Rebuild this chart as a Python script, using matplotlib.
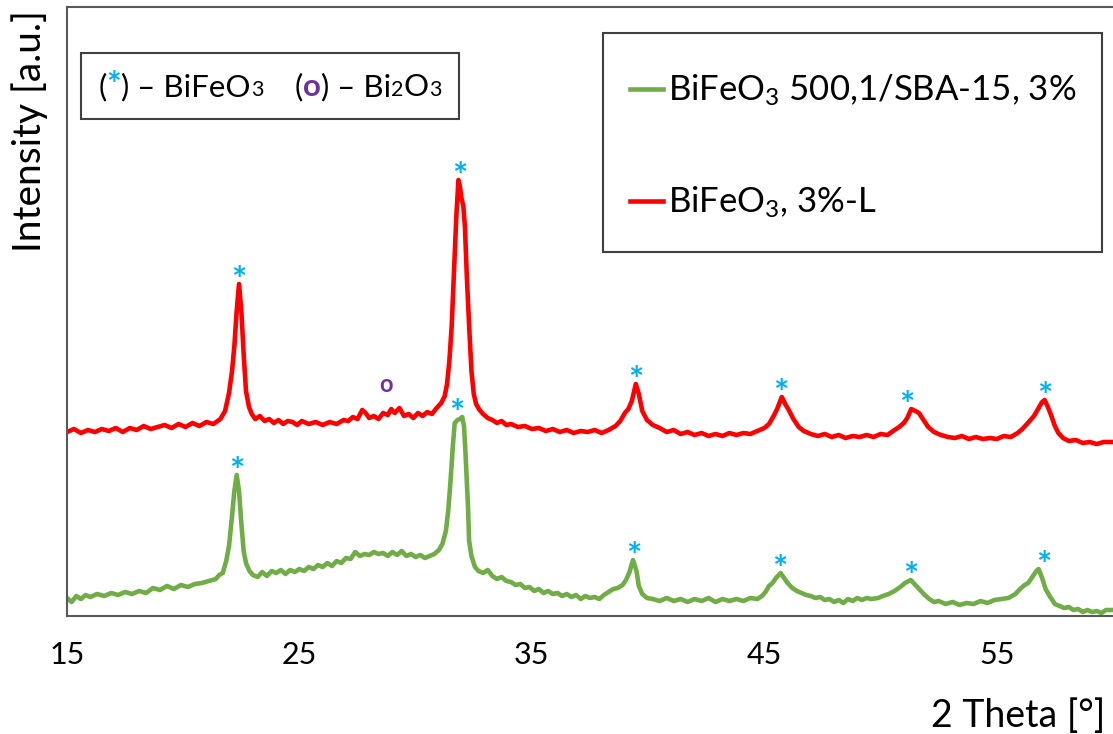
import numpy as np
import matplotlib
matplotlib.use('Agg')
import matplotlib.pyplot as plt
from matplotlib.patches import Rectangle
from matplotlib.offsetbox import TextArea, HPacker, AnchoredOffsetbox

plt.rcParams['font.family'] = ['Lato', 'DejaVu Sans']
plt.rcParams['mathtext.fontset'] = 'custom'
plt.rcParams['mathtext.rm'] = 'Lato'
plt.rcParams['mathtext.it'] = 'Lato:italic'
plt.rcParams['mathtext.bf'] = 'Lato:bold'

# BiFeO3, 3%-L  (2 theta [deg], intensity [a.u.])
tth_red = [15.0, 15.3, 15.6, 15.9, 16.2, 16.5, 16.8, 17.1, 17.4, 17.7, 18.0, 18.3, 18.6, 18.9,
           19.2, 19.5, 19.8, 20.1, 20.4, 20.7, 21.0, 21.3, 21.6, 21.8, 21.97, 22.1, 22.2, 22.3,
           22.4, 22.5, 22.6, 22.7, 22.83, 22.95, 23.1, 23.3, 23.5, 23.7, 23.9, 24.1, 24.3, 24.5,
           24.7, 24.9, 25.1, 25.4, 25.7, 26.0, 26.3, 26.6, 26.9, 27.1, 27.3, 27.5, 27.7, 27.85,
           28.0, 28.2, 28.4, 28.6, 28.8, 28.95, 29.1, 29.3, 29.5, 29.7, 29.9, 30.1, 30.3, 30.5,
           30.7, 30.9, 31.1, 31.25, 31.35, 31.45, 31.55, 31.65, 31.75, 31.84, 31.9, 31.97, 32.05,
           32.12, 32.2, 32.3, 32.4, 32.5, 32.6, 32.75, 32.9, 33.1, 33.3, 33.5, 33.7, 33.9, 34.1,
           34.4, 34.7, 35.0, 35.3, 35.6, 35.9, 36.2, 36.5, 36.8, 37.1, 37.4, 37.7, 38.0, 38.3,
           38.6, 38.8, 39.0, 39.15, 39.3, 39.47, 39.6, 39.75, 39.95, 40.2, 40.5, 40.8, 41.1, 41.4,
           41.7, 42.0, 42.3, 42.6, 42.9, 43.2, 43.5, 43.8, 44.1, 44.4, 44.7, 45.0, 45.2, 45.4,
           45.55, 45.75, 45.9, 46.05, 46.25, 46.48, 46.7, 47.0, 47.3, 47.6, 47.9, 48.2, 48.5,
           48.8, 49.1, 49.4, 49.7, 50.0, 50.3, 50.6, 50.8, 51.0, 51.15, 51.32, 51.5, 51.65, 51.85,
           52.05, 52.3, 52.6, 52.9, 53.2, 53.5, 53.8, 54.1, 54.4, 54.7, 55.0, 55.3, 55.6, 55.9,
           56.1, 56.3, 56.45, 56.6, 56.8, 56.95, 57.06, 57.2, 57.35, 57.5, 57.65, 57.85, 58.1,
           58.4, 58.7, 59.0, 59.3, 59.6, 60.0]
int_red = [184, 187, 183, 186, 184, 187, 185, 188, 184, 188, 186, 190, 187, 189,
           191, 188, 192, 189, 193, 190, 194, 192, 197, 205, 223, 245, 270, 305,
           332, 305, 262, 225, 209, 202, 197, 200, 195, 197, 193, 196, 192, 195,
           194, 191, 195, 192, 194, 191, 194, 192, 196, 195, 199, 197, 206, 203,
           198, 200, 197, 203, 201, 207, 203, 208, 200, 202, 198, 203, 200, 204,
           202, 208, 213, 220, 232, 255, 290, 345, 400, 436, 430, 418, 410,
           389, 340, 290, 245, 222, 212, 206, 202, 198, 196, 193, 195, 191, 192,
           189, 190, 187, 188, 185, 187, 184, 186, 183, 185, 184, 186, 183, 186,
           190, 195, 203, 207, 215, 232, 222, 205, 196, 191, 188, 184, 186, 182,
           184, 181, 183, 180, 182, 180, 183, 181, 183, 182, 185, 188, 192, 200,
           207, 219, 212, 206, 197, 189, 185, 182, 180, 182, 179, 181, 178,
           180, 179, 181, 179, 182, 181, 186, 189, 193, 198, 207, 205, 203, 196,
           189, 184, 181, 179, 178, 180, 177, 179, 177, 178, 177, 180, 179, 183,
           187, 192, 196, 200, 208, 214, 216, 209, 200, 190, 183, 178, 175,
           176, 173, 174, 172, 174, 174]

# BiFeO3 500,1/SBA-15, 3%
tth_green = [15.0, 15.2, 15.4, 15.6, 15.8, 16.0, 16.3, 16.6, 16.9, 17.2, 17.5, 17.8, 18.1, 18.4,
             18.7, 19.0, 19.3, 19.6, 19.9, 20.2, 20.5, 20.8, 21.1, 21.4, 21.55, 21.7, 21.85, 21.97,
             22.1, 22.2, 22.3, 22.4, 22.5, 22.6, 22.7, 22.85, 23.0, 23.2, 23.4, 23.6, 23.8, 24.0,
             24.2, 24.4, 24.6, 24.8, 25.0, 25.2, 25.4, 25.6, 25.8, 26.0, 26.2, 26.4, 26.6, 26.8,
             27.0, 27.2, 27.4, 27.6, 27.8, 28.0, 28.2, 28.4, 28.6, 28.8, 29.0, 29.2, 29.4, 29.6,
             29.8, 30.0, 30.2, 30.4, 30.6, 30.8, 31.0, 31.15, 31.3, 31.4, 31.5, 31.6, 31.68, 31.8,
             31.9, 32.0, 32.08, 32.15, 32.25, 32.3, 32.4, 32.55, 32.7, 32.9, 33.1, 33.3, 33.5,
             33.7, 33.9, 34.1, 34.3, 34.5, 34.7, 34.9, 35.1, 35.3, 35.5, 35.7, 35.9, 36.1, 36.3,
             36.5, 36.7, 36.9, 37.1, 37.3, 37.5, 37.7, 37.9, 38.1, 38.3, 38.5, 38.7, 38.9, 39.05,
             39.2, 39.35, 39.5, 39.6, 39.75, 39.95, 40.2, 40.5, 40.8, 41.1, 41.4, 41.7, 42.0,
             42.3, 42.6, 42.9, 43.2, 43.5, 43.8, 44.1, 44.4, 44.7, 44.9, 45.05, 45.2, 45.35,
             45.5, 45.7, 45.85, 46.0, 46.2, 46.4, 46.6, 46.8, 47.0, 47.2, 47.4, 47.6, 47.8, 48.0,
             48.2, 48.4, 48.6, 48.8, 49.0, 49.2, 49.4, 49.6, 49.9, 50.1, 50.35, 50.6, 50.85,
             51.05, 51.3, 51.5, 51.7, 51.9, 52.1, 52.3, 52.5, 52.8, 53.1, 53.4, 53.7, 54.0, 54.3,
             54.6, 54.9, 55.2, 55.5, 55.8, 56.0, 56.2, 56.35, 56.5, 56.7, 56.8, 56.95, 57.1,
             57.3, 57.5, 57.7, 57.9, 58.1, 58.3, 58.5, 58.7, 58.9, 59.1, 59.3, 59.5, 59.7, 60.0]
int_green = [18, 14, 20, 17, 21, 19, 22, 20, 23, 21, 24, 22, 25, 23,
             28, 26, 30, 27, 31, 29, 32, 33, 35, 37, 41, 43, 55, 70,
             100, 125, 141, 125, 93, 65, 53, 45, 41, 39, 44, 40, 45, 43,
             46, 42, 46, 44, 47, 45, 49, 47, 51, 49, 53, 50, 55, 53,
             58, 57, 64, 60, 62, 61, 64, 62, 63, 60, 64, 61, 65, 60,
             62, 59, 61, 58, 60, 62, 66, 72, 85, 105, 135, 170, 193, 196,
             197, 199, 190, 160, 110, 75, 60, 49, 45, 43, 46, 40, 37,
             39, 35, 34, 31, 32, 28, 29, 25, 27, 23, 25, 22, 23, 20,
             22, 19, 21, 17, 20, 18, 19, 17, 21, 24, 27, 28, 31, 36,
             44, 56, 45, 30, 22, 18, 17, 15, 18, 15, 17, 14, 17,
             15, 18, 14, 17, 15, 17, 15, 18, 17, 20, 24, 30, 33,
             38, 43, 38, 33, 28, 25, 23, 21, 20, 18, 19, 16, 17, 14,
             16, 13, 17, 15, 18, 16, 18, 17, 18, 20, 22, 25, 29,
             33, 36, 31, 26, 21, 17, 14, 15, 12, 14, 11, 13, 12, 15,
             13, 16, 17, 18, 22, 27, 31, 33, 38, 45, 47, 38, 27,
             19, 12, 10, 8, 9, 6, 7, 4, 6, 4, 5, 3, 6, 6]

# reflections marked on each pattern
bfo_red = [22.40, 31.90, 39.47, 45.71, 51.13, 57.06]
bfo_green = [22.31, 31.77, 39.39, 45.67, 51.30, 57.02]
bi2o3_red = [28.72]

tick_vals = [15, 25, 35, 45, 55]

col_red = '#FF0000'
col_green = '#70AD47'
col_star = '#00B0F0'
col_o = '#7030A0'
col_frame = '#404040'

W, H = 1113, 734
fig = plt.figure(figsize=(W / 100, H / 100), dpi=100, facecolor='white')
ax = fig.add_axes([67 / W, 118 / H, 1046 / W, 609 / H])

ax.plot(tth_green, int_green, color=col_green, lw=3.3, label=r'BiFeO$_3$ 500,1/SBA-15, 3%')
ax.plot(tth_red, int_red, color=col_red, lw=3.3, label=r'BiFeO$_3$, 3%-L')


def peak_top(tth, vals, pos, w=0.35):
    tth = np.asarray(tth)
    vals = np.asarray(vals)
    m = (tth > pos - w) & (tth < pos + w)
    return vals[m].max()


for tth, vals, peaks in [(tth_red, int_red, bfo_red), (tth_green, int_green, bfo_green)]:
    for p in peaks:
        ax.annotate('*', xy=(p, peak_top(tth, vals, p)), xytext=(0, -6),
                    textcoords='offset points', ha='center', va='baseline',
                    fontsize=26, fontweight='bold', color=col_star)
for p in bi2o3_red:
    ax.annotate('o', xy=(p, peak_top(tth_red, int_red, p, 0.8)), xytext=(0, 11.5),
                textcoords='offset points', ha='center', va='baseline',
                fontsize=17, fontweight='bold', color=col_o)

ax.set_xlim(15, 60)
ax.set_ylim(0, 609)
ax.set_xticks(tick_vals)
ax.set_yticks([])
ax.tick_params(axis='x', length=0, pad=18, labelsize=22)
for s in ['left', 'bottom', 'top']:
    ax.spines[s].set_color('#595959')
    ax.spines[s].set_linewidth(1.5)
ax.spines['right'].set_visible(False)

fig.text(30 / W, 1 - 10 / H, 'Intensity [a.u.]', rotation=90, ha='center', va='top', fontsize=28)
fig.text(1105 / W, 1 - 716 / H, '2 Theta [°]', ha='right', va='center', fontsize=27)

# series legend, framed by hand so the box can be wider than its entries
ax.add_patch(Rectangle((603 / W, 1 - 252 / H), 499 / W, 219 / H, transform=fig.transFigure,
                       facecolor='white', edgecolor=col_frame, lw=1.5, zorder=4, clip_on=False))
leg = ax.legend(loc='upper left', bbox_to_anchor=(630 / W, 1 - 73 / H),
                bbox_transform=fig.transFigure, fontsize=25, frameon=False,
                borderpad=0, labelspacing=2.2, handlelength=0.95, handletextpad=0.15,
                borderaxespad=0)
leg.set_zorder(5)

# phase key
big = dict(fontsize=22.5, color='black')
small = dict(fontsize=15.5, color='black')
parts = [TextArea('(', textprops=big),
         TextArea('*', textprops=dict(fontsize=25, color=col_star, fontweight='bold')),
         TextArea(') – BiFeO', textprops=big),
         TextArea('3', textprops=small),
         TextArea('    (', textprops=big),
         TextArea('o', textprops=dict(fontsize=22.5, color=col_o, fontweight='bold')),
         TextArea(') – Bi', textprops=big),
         TextArea('2', textprops=small),
         TextArea('O', textprops=big),
         TextArea('3', textprops=small)]
key = HPacker(children=parts, align='baseline', pad=0, sep=0)
box = AnchoredOffsetbox(loc='upper left', child=key, pad=0.55, borderpad=0, frameon=True,
                        bbox_to_anchor=(81 / W, 1 - 53 / H), bbox_transform=fig.transFigure,
                        prop=dict(size=22.5))
box.patch.set_edgecolor(col_frame)
box.patch.set_linewidth(1.5)
box.patch.set_boxstyle('square', pad=0)
ax.add_artist(box)

fig.savefig('out.png', dpi=100)
